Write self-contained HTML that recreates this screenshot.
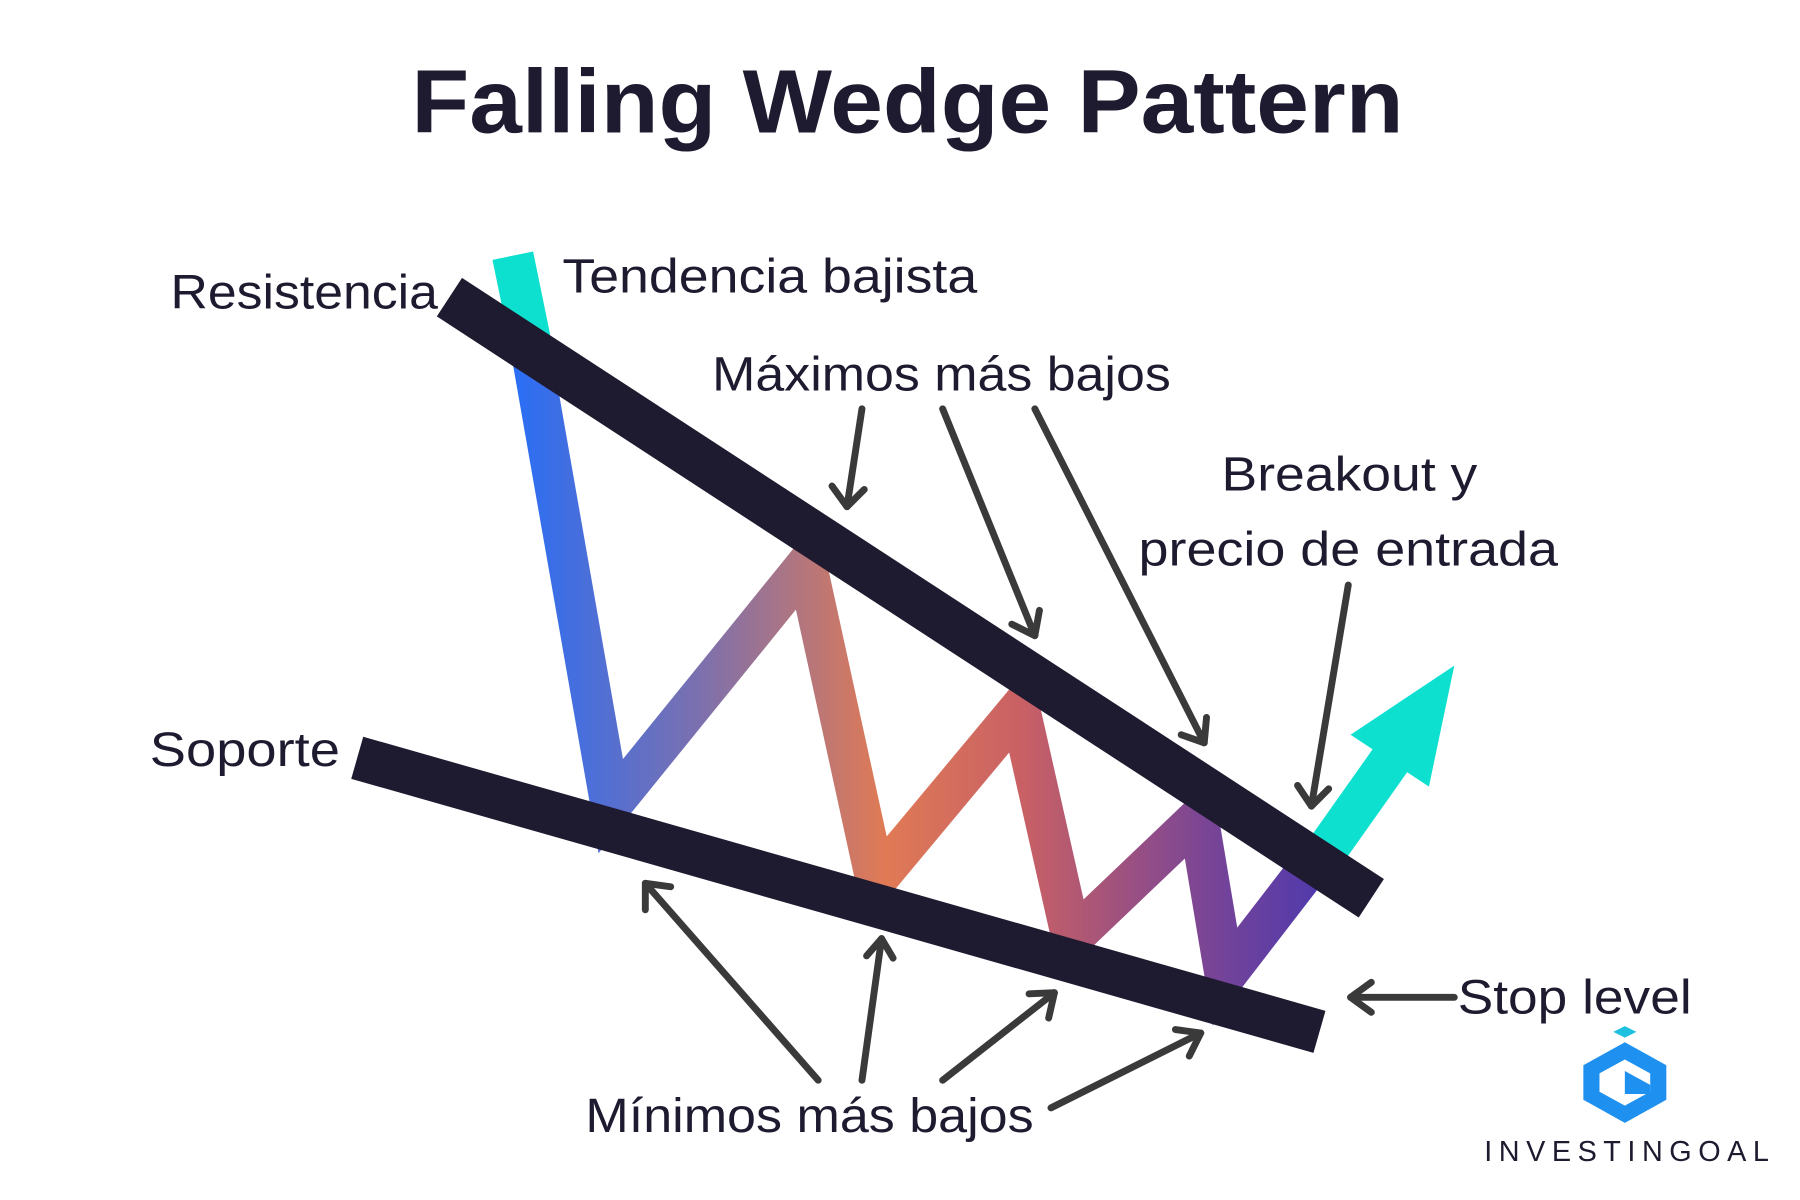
<!DOCTYPE html>
<html><head><meta charset="utf-8"><style>
html,body{margin:0;padding:0;background:#fff;}
svg{display:block;}
text{font-family:"Liberation Sans",sans-serif;fill:#1e1b30;}
</style></head><body>
<svg width="1800" height="1200" viewBox="0 0 1562 1042" preserveAspectRatio="none" xmlns="http://www.w3.org/2000/svg">
<defs>
<linearGradient id="g" gradientUnits="userSpaceOnUse" x1="447" y1="0" x2="1160" y2="0">
<stop offset="0" stop-color="#2a6ef5"/>
<stop offset="0.22" stop-color="#7a70b0"/>
<stop offset="0.45" stop-color="#e07a55"/>
<stop offset="0.62" stop-color="#c86065"/>
<stop offset="0.84" stop-color="#7a4595"/>
<stop offset="1" stop-color="#4a38b0"/>
</linearGradient>
</defs>
<text x="357" y="115" font-size="78" font-weight="bold" textLength="861" lengthAdjust="spacingAndGlyphs">Falling Wedge Pattern</text>

<line x1="445" y1="222" x2="462" y2="305" stroke="#0ee0d0" stroke-width="36"/>
<polyline points="460,300 530,700 700,490 760,765 885,615 930,815 1040,710 1063,848 1150,735" fill="none" stroke="url(#g)" stroke-width="35" stroke-linejoin="miter"/>
<line x1="1150" y1="740" x2="1215" y2="648" stroke="#0ee0d0" stroke-width="36"/>
<polygon points="1262,578 1172,638 1240,683" fill="#0ee0d0"/>

<line x1="390" y1="258" x2="1190" y2="780" stroke="#1e1b30" stroke-width="40"/>
<line x1="310" y1="658" x2="1145" y2="896" stroke="#1e1b30" stroke-width="38"/>

<g stroke="#3a3a3a" stroke-width="6" fill="none" stroke-linecap="round" stroke-linejoin="round">
<line x1="748" y1="355" x2="735" y2="440"/><polyline points="722,422 735,440 750,425"/>
<line x1="818" y1="355" x2="898" y2="552"/><polyline points="878,542 898,552 902,530"/>
<line x1="898" y1="355" x2="1045" y2="645"/><polyline points="1025,638 1045,645 1047,623"/>
<line x1="1170" y1="508" x2="1138" y2="700"/><polyline points="1126,682 1138,700 1153,685"/>
<line x1="1262" y1="866" x2="1172" y2="866"/><polyline points="1190,853 1172,866 1190,879"/>
<line x1="710" y1="938" x2="560" y2="767"/><polyline points="560,790 560,767 582,770"/>
<line x1="748" y1="938" x2="765" y2="815"/><polyline points="752,830 765,815 775,832"/>
<line x1="818" y1="938" x2="915" y2="862"/><polyline points="893,863 915,862 910,884"/>
<line x1="912" y1="962" x2="1042" y2="897"/><polyline points="1020,894 1042,897 1032,917"/>
</g>

<g font-size="42" lengthAdjust="spacingAndGlyphs">
<text x="148" y="268" textLength="232" lengthAdjust="spacingAndGlyphs">Resistencia</text>
<text x="488" y="254" textLength="360" lengthAdjust="spacingAndGlyphs">Tendencia bajista</text>
<text x="618" y="339" textLength="398" lengthAdjust="spacingAndGlyphs">Máximos más bajos</text>
<text x="1060" y="426" textLength="222" lengthAdjust="spacingAndGlyphs">Breakout y</text>
<text x="988" y="491" textLength="364" lengthAdjust="spacingAndGlyphs">precio de entrada</text>
<text x="130" y="665" textLength="165" lengthAdjust="spacingAndGlyphs">Soporte</text>
<text x="1265" y="880" textLength="203" lengthAdjust="spacingAndGlyphs">Stop level</text>
<text x="508" y="983" textLength="389" lengthAdjust="spacingAndGlyphs">Mínimos más bajos</text>
</g>

<g>
<polygon points="1410,905 1446,925 1446,955 1410,975 1374,955 1374,925" fill="#1e90f0"/>
<polygon points="1410,920 1432,932 1432,948 1410,960 1388,948 1388,932" fill="#fff"/>
<polygon points="1410,930 1432,942 1432,950 1410,950" fill="#1e90f0"/>
<polygon points="1400,896 1410,891 1420,896 1410,901" fill="#1ec0e0"/>
</g>
<text x="1288" y="1008" font-size="25" fill="#333" textLength="247" lengthAdjust="spacing">INVESTINGOAL</text>
</svg>
</body></html>
